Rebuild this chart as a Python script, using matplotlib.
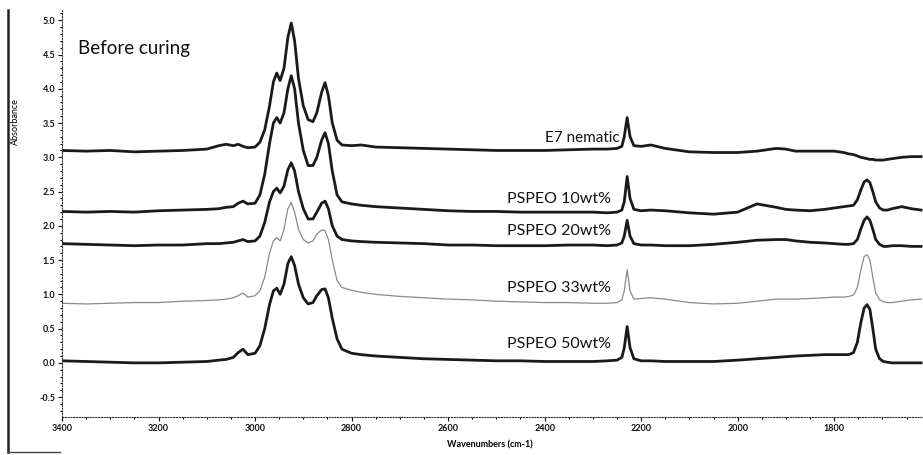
import matplotlib
matplotlib.use("Agg")
import matplotlib.pyplot as plt
from matplotlib.lines import Line2D
from matplotlib.ticker import MultipleLocator

wavenumbers = [3400, 3350, 3300, 3250, 3200, 3150, 3100, 3075, 3060, 3045, 3035, 3025, 3015,
               3000, 2990, 2980, 2970, 2962, 2955, 2948, 2940, 2932, 2925, 2918, 2910, 2900,
               2890, 2880, 2872, 2862, 2855, 2848, 2840, 2830, 2820, 2800, 2780, 2750, 2700,
               2650, 2600, 2550, 2500, 2450, 2400, 2350, 2300, 2270, 2250, 2240, 2235, 2229,
               2223, 2215, 2200, 2180, 2150, 2100, 2050, 2000, 1960, 1920, 1900, 1880, 1850,
               1820, 1800, 1780, 1770, 1760, 1752, 1745, 1738, 1732, 1726, 1720, 1714, 1706,
               1698, 1690, 1680, 1660, 1640, 1620]

e7_nematic = [3.10, 3.09, 3.10, 3.08, 3.09, 3.10, 3.12, 3.17, 3.19, 3.17, 3.19, 3.16, 3.14,
              3.15, 3.22, 3.40, 3.75, 4.10, 4.23, 4.12, 4.30, 4.75, 4.96, 4.70, 4.15, 3.75,
              3.55, 3.52, 3.65, 3.95, 4.09, 3.90, 3.50, 3.25, 3.18, 3.17, 3.18, 3.15, 3.14,
              3.13, 3.12, 3.11, 3.10, 3.10, 3.10, 3.11, 3.12, 3.12, 3.13, 3.16, 3.30, 3.58,
              3.30, 3.17, 3.16, 3.18, 3.13, 3.08, 3.07, 3.07, 3.09, 3.13, 3.12, 3.09, 3.09,
              3.09, 3.09, 3.07, 3.05, 3.04, 3.02, 3.00, 2.99, 2.98, 2.97, 2.97, 2.96, 2.96,
              2.96, 2.97, 2.98, 3.00, 3.01, 3.01]

pspeo_10 = [2.21, 2.20, 2.21, 2.20, 2.22, 2.23, 2.24, 2.25, 2.27, 2.28, 2.33, 2.36, 2.32,
            2.33, 2.45, 2.75, 3.20, 3.50, 3.58, 3.50, 3.65, 4.00, 4.19, 4.00, 3.50, 3.10,
            2.88, 2.88, 3.00, 3.25, 3.36, 3.20, 2.80, 2.45, 2.35, 2.32, 2.30, 2.28, 2.26,
            2.24, 2.22, 2.21, 2.21, 2.20, 2.20, 2.20, 2.20, 2.19, 2.20, 2.23, 2.35, 2.72,
            2.40, 2.24, 2.22, 2.23, 2.22, 2.19, 2.17, 2.20, 2.32, 2.27, 2.24, 2.23, 2.22,
            2.24, 2.26, 2.28, 2.29, 2.30, 2.38, 2.52, 2.64, 2.67, 2.63, 2.50, 2.35, 2.26,
            2.23, 2.23, 2.25, 2.28, 2.25, 2.23]

pspeo_20 = [1.74, 1.73, 1.72, 1.71, 1.72, 1.72, 1.74, 1.74, 1.75, 1.76, 1.78, 1.80, 1.77,
            1.78, 1.85, 2.05, 2.35, 2.50, 2.55, 2.48, 2.58, 2.82, 2.92, 2.80, 2.50, 2.25,
            2.10, 2.10, 2.20, 2.33, 2.36, 2.25, 2.00, 1.85, 1.80, 1.78, 1.77, 1.76, 1.75,
            1.74, 1.72, 1.72, 1.71, 1.71, 1.71, 1.72, 1.72, 1.71, 1.72, 1.75, 1.85, 2.08,
            1.85, 1.74, 1.72, 1.72, 1.71, 1.71, 1.73, 1.76, 1.79, 1.80, 1.80, 1.78, 1.76,
            1.75, 1.74, 1.73, 1.73, 1.74, 1.80, 1.95, 2.08, 2.13, 2.08, 1.95, 1.80, 1.73,
            1.70, 1.70, 1.71, 1.71, 1.70, 1.70]

pspeo_33 = [0.87, 0.86, 0.87, 0.88, 0.88, 0.90, 0.91, 0.92, 0.93, 0.95, 0.98, 1.02, 0.96,
            0.98, 1.05, 1.25, 1.60, 1.78, 1.83, 1.78, 1.95, 2.25, 2.34, 2.20, 1.95, 1.80,
            1.75, 1.78, 1.88, 1.94, 1.93, 1.80, 1.50, 1.20, 1.10, 1.06, 1.03, 1.00, 0.97,
            0.95, 0.93, 0.92, 0.90, 0.89, 0.88, 0.88, 0.87, 0.87, 0.88, 0.92, 1.05, 1.36,
            1.05, 0.93, 0.94, 0.95, 0.93, 0.88, 0.86, 0.87, 0.90, 0.93, 0.93, 0.93, 0.94,
            0.95, 0.96, 0.96, 0.97, 0.99, 1.10, 1.35, 1.55, 1.58, 1.50, 1.25, 1.02, 0.92,
            0.89, 0.88, 0.88, 0.90, 0.92, 0.93]

pspeo_50 = [0.03, 0.02, 0.01, 0.00, 0.00, 0.01, 0.02, 0.04, 0.05, 0.08, 0.15, 0.20, 0.12,
            0.14, 0.25, 0.50, 0.85, 1.05, 1.09, 1.00, 1.15, 1.45, 1.55, 1.42, 1.15, 0.95,
            0.86, 0.88, 0.98, 1.07, 1.08, 0.95, 0.65, 0.35, 0.20, 0.14, 0.12, 0.10, 0.08,
            0.06, 0.05, 0.04, 0.03, 0.03, 0.02, 0.02, 0.02, 0.03, 0.04, 0.08, 0.22, 0.53,
            0.22, 0.06, 0.03, 0.03, 0.02, 0.02, 0.02, 0.04, 0.06, 0.08, 0.09, 0.10, 0.11,
            0.12, 0.12, 0.12, 0.12, 0.15, 0.30, 0.58, 0.80, 0.85, 0.78, 0.50, 0.20, 0.06,
            0.02, 0.01, 0.00, 0.00, 0.00, 0.00]

series_labels = ["E7 nematic", "PSPEO 10wt%", "PSPEO 20wt%", "PSPEO 33wt%", "PSPEO 50wt%"]
series_values = [e7_nematic, pspeo_10, pspeo_20, pspeo_33, pspeo_50]
label_positions = [(2245, 3.28), (2262, 2.39), (2262, 1.93), (2262, 1.09), (2262, 0.28)]
xticks = [3400, 3200, 3000, 2800, 2600, 2400, 2200, 2000, 1800]
yticks = [-0.5, 0.0, 0.5, 1.0, 1.5, 2.0, 2.5, 3.0, 3.5, 4.0, 4.5, 5.0]
ytick_labels = ["-0.5", "0.0", "0.5", "1.0", "1.5", "2.0", "2.5", "3.0", "3.5", "4.0", "4.5", "5.0"]

plt.rcParams['font.family'] = ['Lato', 'DejaVu Sans']

fig = plt.figure(figsize=(9.23, 4.55), dpi=100)
ax = fig.add_axes([62 / 923, 1 - 417 / 455, 1 - 62 / 923, (417 - 10) / 455])

styles = [dict(color='#1a1a1a', lw=2.0), dict(color='#1a1a1a', lw=2.0),
          dict(color='#1a1a1a', lw=2.0), dict(color='#8a8a8a', lw=0.9),
          dict(color='#1a1a1a', lw=2.0)]
for vals, st in zip(series_values, styles):
    ax.plot(wavenumbers, vals, solid_joinstyle='round', **st)

for lab, (xp, yp) in zip(series_labels, label_positions):
    ax.text(xp, yp, lab, fontsize=11.5 if lab.startswith("PSPEO") else 11,
            ha='right', va='center', color='#111111')

ax.text((78 - 62) / (923 - 62), 0.905, "Before curing",
        transform=ax.transAxes, fontsize=13.5, ha='left', va='center', color='#111111')

ax.set_xlim(3400, 1616)
ax.set_ylim(-0.79, 5.15)
ax.set_xticks(xticks)
ax.set_xticklabels([str(t) for t in xticks])
ax.set_yticks(yticks)
ax.set_yticklabels(ytick_labels)
ax.yaxis.set_minor_locator(MultipleLocator(0.1))
ax.xaxis.set_minor_locator(MultipleLocator(50))

for s in ['top', 'right']:
    ax.spines[s].set_visible(False)
for s in ['left', 'bottom']:
    ax.spines[s].set_linestyle((0, (1, 1.5)))
    ax.spines[s].set_linewidth(0.8)
    ax.spines[s].set_color('#333333')

ax.tick_params(axis='both', which='major', labelsize=6.5, length=3, width=0.8,
               direction='out', pad=2, colors='#111111')
ax.tick_params(axis='both', which='minor', length=1.5, width=0.8, direction='out')
for lbl in ax.get_xticklabels() + ax.get_yticklabels():
    lbl.set_fontweight('bold')

fig.text(490 / 923, 1 - 445 / 455, "Wavenumbers (cm-1)", fontsize=6.5, fontweight='bold',
         ha='center', va='center')
fig.text(15 / 923, 1 - 122 / 455, "Absorbance", fontsize=6.5, rotation=90,
         ha='center', va='center')

fig.add_artist(Line2D([8 / 923, 8 / 923], [1 - 452 / 455, 1 - 10 / 455],
                      transform=fig.transFigure, color='#222222', lw=1.8))
fig.add_artist(Line2D([8 / 923, 60 / 923], [1 - 452 / 455, 1 - 452 / 455],
                      transform=fig.transFigure, color='#444444', lw=1.0))

fig.savefig("out.png", dpi=100)
